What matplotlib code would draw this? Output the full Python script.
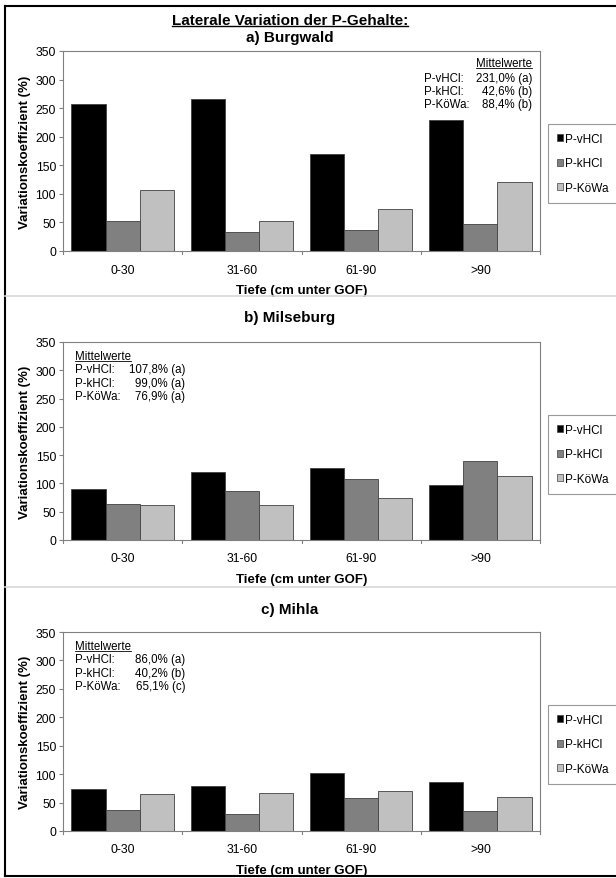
import numpy as np
import matplotlib
matplotlib.use('Agg')
import matplotlib.pyplot as plt
from matplotlib.lines import Line2D
from matplotlib.patches import Patch

plt.rcParams['font.family'] = ['Liberation Sans', 'DejaVu Sans']

W, H = 616, 879

categories = ['0-30', '31-60', '61-90', '>90']
series = ['P-vHCl', 'P-kHCl', 'P-KöWa']
colors = ['#000000', '#808080', '#c0c0c0']

titles = ['a) Burgwald', 'b) Milseburg', 'c) Mihla']

burgwald = [[257, 266, 170, 230],
            [53, 33, 36, 48],
            [107, 52, 73, 120]]
milseburg = [[90, 120, 127, 97],
             [64, 87, 108, 140],
             [61, 62, 74, 113]]
mihla = [[74, 80, 102, 86],
         [37, 30, 58, 36],
         [65, 66, 70, 59]]

means_burgwald = ['231,0% (a)', '42,6% (b)', '88,4% (b)']
means_milseburg = ['107,8% (a)', '99,0% (a)', '76,9% (a)']
means_mihla = ['86,0% (a)', '40,2% (b)', '65,1% (c)']

fig = plt.figure(figsize=(W / 100, H / 100), dpi=100)


def fx(x):
    return x / W


def fy(y):
    return 1 - y / H


def underline(t, color='k', lw=0.8):
    fig.canvas.draw()
    bb = t.get_window_extent(renderer=fig.canvas.get_renderer())
    bb = bb.transformed(fig.transFigure.inverted())
    fig.add_artist(Line2D([bb.x0, bb.x1], [bb.y0 + 0.0015, bb.y0 + 0.0015],
                          color=color, lw=lw, transform=fig.transFigure))


# Rahmen und Trennlinien
fig.add_artist(Line2D([fx(5), fx(5)], [fy(7), fy(877)], color='k', lw=1.5, transform=fig.transFigure))
fig.add_artist(Line2D([fx(5), fx(616)], [fy(7), fy(7)], color='k', lw=1.5, transform=fig.transFigure))
fig.add_artist(Line2D([fx(5), fx(616)], [fy(877), fy(877)], color='k', lw=1.5, transform=fig.transFigure))
for ys in [297, 588]:
    fig.add_artist(Line2D([fx(5), fx(616)], [fy(ys), fy(ys)], color='#d8d8d8', lw=1.2, transform=fig.transFigure))

# (oben, unten) der Plotflaeche, Titel-y, Legende oben, Daten, Mittelwerte, Seite
panels = [
    (52, 252, 42, 125, burgwald, means_burgwald, 'right'),
    (343, 541, 322, 416, milseburg, means_milseburg, 'left'),
    (633, 832, 614, 706, mihla, means_mihla, 'left'),
]

x = np.arange(len(categories))
bw = 0.287
fs = 8.8

for i, (top, bot, ty, ltop, data, means, side) in enumerate(panels):
    ax = fig.add_axes([fx(63), fy(bot), fx(540) - fx(63), (bot - top) / H])
    for k, s in enumerate(series):
        ax.bar(x + (k - 1) * bw, data[k], width=bw, color=colors[k],
               edgecolor='#404040', linewidth=0.6, label=s, zorder=2)
    ax.set_xlim(-0.5, 3.5)
    ax.set_ylim(0, 350)
    ax.set_yticks(np.arange(0, 351, 50))
    ax.set_xticks(x)
    ax.set_xticklabels(categories, fontsize=fs)
    ax.tick_params(axis='x', length=0, pad=9)
    ax.tick_params(axis='y', labelsize=fs, length=3, color='#808080', pad=2)
    # Ticks an den Kategoriegrenzen
    for b in np.arange(-0.5, 4.0, 1.0):
        ax.plot([b, b], [0, -6], color='#808080', lw=0.8, clip_on=False)
    for sp in ['top', 'right', 'left', 'bottom']:
        ax.spines[sp].set_color('#808080')
        ax.spines[sp].set_linewidth(0.8)
    ax.set_ylabel('Variationskoeffizient (%)', fontsize=9.5, fontweight='bold', labelpad=3)
    ax.set_xlabel('Tiefe (cm unter GOF)', fontsize=9.5, fontweight='bold', labelpad=6)

    fig.text(fx(290), fy(ty), titles[i], ha='center', va='baseline',
             fontsize=11, fontweight='bold')

    # Mittelwerte
    lab_y = [top + 15, top + 30, top + 43, top + 56]
    if side == 'right':
        t = fig.text(fx(532), fy(lab_y[0]), 'Mittelwerte', ha='right', va='baseline', fontsize=8.3)
        lx, vx = 424, 532
    else:
        lab_y = [top + 17, top + 30, top + 44, top + 57]
        t = fig.text(fx(75), fy(lab_y[0]), 'Mittelwerte', ha='left', va='baseline', fontsize=8.3)
        lx, vx = 75, 185
    underline(t, lw=0.6)
    for k, s in enumerate(series):
        fig.text(fx(lx), fy(lab_y[k + 1]), s + ':', ha='left', va='baseline', fontsize=8.3)
        fig.text(fx(vx), fy(lab_y[k + 1]), means[k], ha='right', va='baseline', fontsize=8.3)

    handles = [Patch(facecolor=colors[k], edgecolor='#404040', linewidth=0.5) for k in range(3)]
    leg = fig.legend(handles, series, loc='upper left', bbox_to_anchor=(fx(548), fy(ltop)),
                     fontsize=8.5, handlelength=0.55, handleheight=0.55, handletextpad=0.15,
                     labelspacing=1.05, borderpad=0.75, fancybox=False, frameon=True,
                     borderaxespad=0)
    leg.get_frame().set_edgecolor('#808080')
    leg.get_frame().set_linewidth(0.8)

t = fig.text(fx(290), fy(25), 'Laterale Variation der P-Gehalte:', ha='center', va='baseline',
             fontsize=11, fontweight='bold')
underline(t, lw=1.0)

fig.savefig('out.png', dpi=100)
